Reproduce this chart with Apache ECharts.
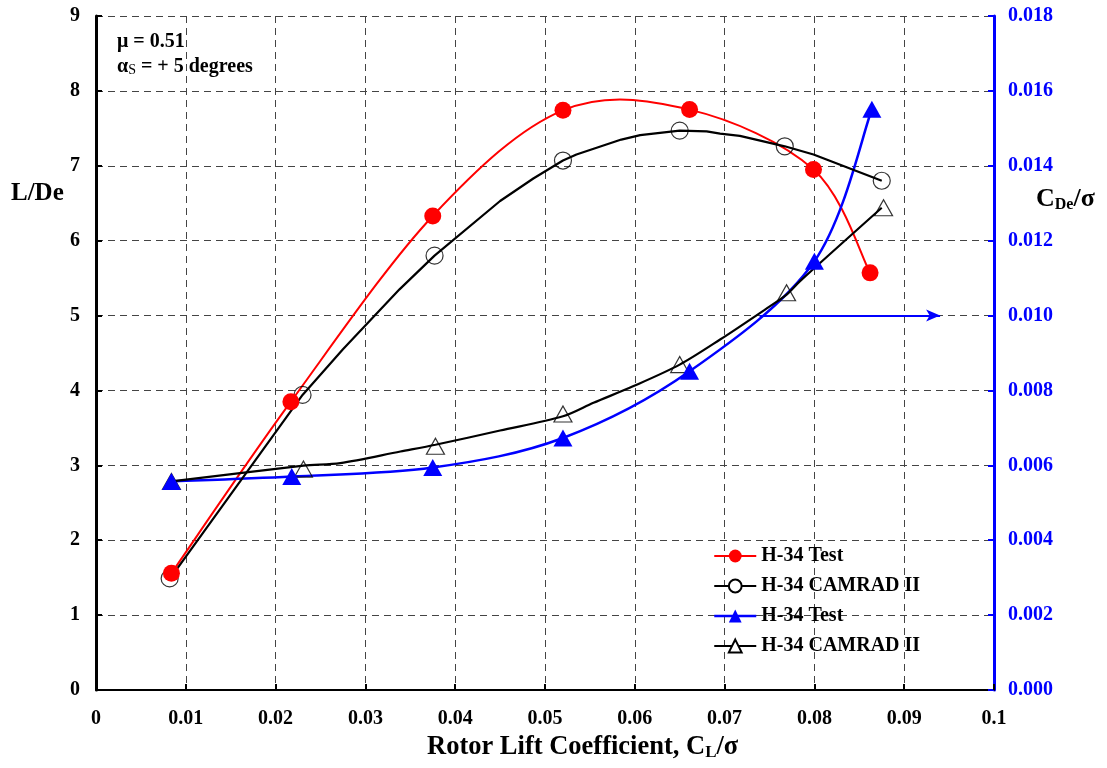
<!DOCTYPE html>
<html>
<head>
<meta charset="utf-8">
<script src="https://cdn.jsdelivr.net/npm/echarts@6/dist/echarts.min.js"></script>
<style>html,body{margin:0;padding:0;background:#fff}#c{width:1107px;height:768px}</style>
</head>
<body>
<div id="c"></div>
<script>
// ---- data ----
const xTicks = [0, 0.01, 0.02, 0.03, 0.04, 0.05, 0.06, 0.07, 0.08, 0.09, 0.1];
const ldTicks = [0, 1, 2, 3, 4, 5, 6, 7, 8, 9];
const cdTicks = [0, 0.002, 0.004, 0.006, 0.008, 0.010, 0.012, 0.014, 0.016, 0.018];

// L/De, H-34 Test (red filled circles)
const ldTest = [[0.0084,1.56],[0.0217,3.85],[0.0375,6.33],[0.0520,7.74],[0.0661,7.75],[0.0799,6.95],[0.0862,5.57]];
// L/De, CAMRAD II computed curve
const ldCamradCurve = [[0.0088,1.58],[0.0230,3.94],[0.0275,4.55],[0.0338,5.35],[0.0377,5.80],[0.0450,6.53],[0.0487,6.83],[0.0520,7.07],[0.0535,7.15],[0.0585,7.35],[0.0606,7.41],[0.0650,7.47],[0.0680,7.46],[0.0695,7.43],[0.0717,7.40],[0.0767,7.26],[0.0799,7.15],[0.0875,6.80]];
// L/De, CAMRAD II markers (open circles)
const ldCamradMarks = [[0.0082,1.49],[0.0230,3.94],[0.0377,5.80],[0.0520,7.07],[0.0650,7.47],[0.0767,7.26],[0.0875,6.80]];

// CDe/sigma, H-34 Test (blue filled triangles)
const cdTest = [[0.0084,0.00557],[0.0218,0.00570],[0.0375,0.00594],[0.0520,0.00673],[0.0661,0.00851],[0.0800,0.01145],[0.0864,0.01551]];
// CDe/sigma, CAMRAD II computed curve
const cdCamradCurve = [[0.0084,0.00557],[0.0231,0.00599],[0.0272,0.00606],[0.0339,0.00637],[0.0378,0.00655],[0.0450,0.00693],[0.0520,0.00731],[0.0554,0.00767],[0.0598,0.00811],[0.0650,0.00869],[0.0695,0.00936],[0.0745,0.01016],[0.0769,0.01056],[0.0784,0.01092],[0.0875,0.01288]];
// CDe/sigma, CAMRAD II markers (open triangles)
const cdCamradMarks = [[0.0084,0.00557],[0.0231,0.00590],[0.0378,0.00651],[0.0520,0.00737],[0.0650,0.00869],[0.0769,0.01061],[0.0877,0.01288]];

// arrow pointing to right axis
const arrowPts = [[0.0739,0.010],[0.0940,0.010]];

const legendNames = ['H-34 Test (L/De)','H-34 CAMRAD II (L/De)','H-34 Test (CDe)','H-34 CAMRAD II (CDe)'];

// ---- chart ----
const FONT = '"Liberation Serif","Times New Roman",serif';
const chart = echarts.init(document.getElementById('c'), null, {renderer:'canvas'});
const dash = {color:'#444', width:1, type:[7,5]};

// Excel-like (Catmull-Rom) smoothed curve drawn through library coords
function splineSeries(name, pts, yAxisIndex, color, width){
  return {
    name:name, type:'custom', yAxisIndex:yAxisIndex, data:pts, z:3, silent:true,
    renderItem:function(params, api){
      if (params.dataIndex !== 0) return null;
      const P = pts.map(p=>api.coord(p));
      const children = [];
      for (let i=0;i<P.length-1;i++){
        const p0 = P[Math.max(0,i-1)], p1 = P[i], p2 = P[i+1], p3 = P[Math.min(P.length-1,i+2)];
        children.push({type:'bezierCurve', shape:{
          x1:p1[0], y1:p1[1], x2:p2[0], y2:p2[1],
          cpx1:p1[0]+(p2[0]-p0[0])/6, cpy1:p1[1]+(p2[1]-p0[1])/6,
          cpx2:p2[0]-(p3[0]-p1[0])/6, cpy2:p2[1]-(p3[1]-p1[1])/6},
          style:{stroke:color, lineWidth:width, fill:null}});
      }
      return {type:'group', children:children};
    }
  };
}

chart.setOption({
  animation:false,
  backgroundColor:'#fff',
  grid:{left:96, right:113, top:16, bottom:78, containLabel:false},
  legend:{
    data:[
      {name:legendNames[0], lineStyle:{color:'#ff0000', width:2, opacity:1}},
      {name:legendNames[1]},
      {name:legendNames[2], lineStyle:{color:'#0000ff', width:2.5, opacity:1}},
      {name:legendNames[3]}
    ],
    orient:'vertical', left:708, top:541,
    itemWidth:42, itemHeight:16, itemGap:10,
    formatter:n=>n.split(' (')[0],
    textStyle:{fontFamily:FONT, fontWeight:'bold', fontSize:20, color:'#000'}
  },
  xAxis:{
    type:'value', min:0, max:0.1, interval:0.01,
    axisLine:{show:true, onZero:false, lineStyle:{color:'#000', width:2}},
    axisTick:{show:true, inside:true, length:6, lineStyle:{color:'#000', width:2}},
    axisLabel:{margin:19, fontFamily:FONT, fontWeight:'bold', fontSize:20, color:'#000',
      formatter:v=>String(+v.toFixed(2))},
    splitLine:{show:true, lineStyle:dash}
  },
  yAxis:[{
    type:'value', min:0, max:9, interval:1,
    axisLine:{show:true, onZero:false, lineStyle:{color:'#000', width:3}},
    axisTick:{show:true, inside:true, length:6, lineStyle:{color:'#000', width:2}},
    axisLabel:{margin:16, fontFamily:FONT, fontWeight:'bold', fontSize:20, color:'#000'},
    splitLine:{show:true, lineStyle:dash}
  },{
    type:'value', min:0, max:0.018, interval:0.002, position:'right',
    axisLine:{show:true, onZero:false, lineStyle:{color:'#0000ff', width:3}},
    axisTick:{show:true, inside:true, length:6, lineStyle:{color:'#0000ff', width:2}},
    axisLabel:{margin:14, fontFamily:FONT, fontWeight:'bold', fontSize:20, color:'#0000ff',
      formatter:v=>v.toFixed(3)},
    splitLine:{show:false}
  }],
  series:[
    {name:legendNames[0], type:'line', yAxisIndex:0, data:ldTest,
      symbol:'circle', symbolSize:17, z:5,
      lineStyle:{color:'#ff0000', width:2, opacity:0}, itemStyle:{color:'#ff0000'}},
    {name:legendNames[1], type:'line', yAxisIndex:0,
      data:ldCamradCurve.map(p=>({value:p, symbol:'none'})),
      symbol:'emptyCircle', symbolSize:16, z:4,
      lineStyle:{color:'#000', width:2.2}, itemStyle:{color:'#000', borderWidth:1}},
    {name:legendNames[1], type:'scatter', yAxisIndex:0, data:ldCamradMarks,
      symbol:'circle', symbolSize:17, z:4,
      itemStyle:{color:'rgba(255,255,255,0)', borderColor:'#000', borderWidth:1.2}},
    {name:legendNames[2], type:'line', yAxisIndex:1, data:cdTest,
      symbol:'triangle', symbolSize:[19,17], z:5,
      lineStyle:{color:'#0000ff', width:2.5, opacity:0}, itemStyle:{color:'#0000ff'},
      markLine:{silent:true, symbol:['none','arrow'], symbolSize:[9,14], label:{show:false},
        lineStyle:{color:'#0000ff', width:2, type:'solid'},
        data:[[{coord:arrowPts[0]},{coord:arrowPts[1]}]]}},
    {name:legendNames[3], type:'line', yAxisIndex:1,
      data:cdCamradCurve.map(p=>({value:p, symbol:'none'})),
      symbol:'emptyTriangle', symbolSize:[18,16], z:4, smooth:0.3,
      lineStyle:{color:'#000', width:2.2}, itemStyle:{color:'#000', borderWidth:1}},
    {name:legendNames[3], type:'scatter', yAxisIndex:1, data:cdCamradMarks,
      symbol:'triangle', symbolSize:[18,16], z:4,
      itemStyle:{color:'rgba(255,255,255,0)', borderColor:'#000', borderWidth:1.2}},
    splineSeries(legendNames[0], ldTest, 0, '#ff0000', 2),
    splineSeries(legendNames[2], cdTest, 1, '#0000ff', 2.5)
  ],
  graphic:[
    {type:'text', left:117, top:32, style:{text:'μ = 0.51', fontFamily:FONT, fontWeight:'bold', fontSize:20, fill:'#000'}},
    {type:'text', left:117, top:57, style:{
      text:'{a|α}{s|S}{a| = + 5 degrees}',
      rich:{a:{fontFamily:FONT, fontWeight:'bold', fontSize:20, color:'#000'},
            s:{fontFamily:FONT, fontSize:14, color:'#000', padding:[7,0,0,0]}}}},
    {type:'text', left:11, top:181, style:{text:'L/De', fontFamily:FONT, fontWeight:'bold', fontSize:25, fill:'#000'}},
    {type:'text', left:1036, top:186, style:{
      text:'{a|C}{s|De}{a|/σ}',
      rich:{a:{fontFamily:FONT, fontWeight:'bold', fontSize:26, color:'#0000ff'},
            s:{fontFamily:FONT, fontWeight:'bold', fontSize:16, color:'#0000ff', padding:[11,0,0,0]}}}},
    {type:'text', left:427, top:734, style:{
      text:'{a|Rotor Lift Coefficient, C}{s|L}{a|/σ}',
      rich:{a:{fontFamily:FONT, fontWeight:'bold', fontSize:26.5, color:'#000'},
            s:{fontFamily:FONT, fontWeight:'bold', fontSize:17, color:'#000', padding:[11,0,0,0]}}}}
  ]
});
</script>
</body>
</html>
